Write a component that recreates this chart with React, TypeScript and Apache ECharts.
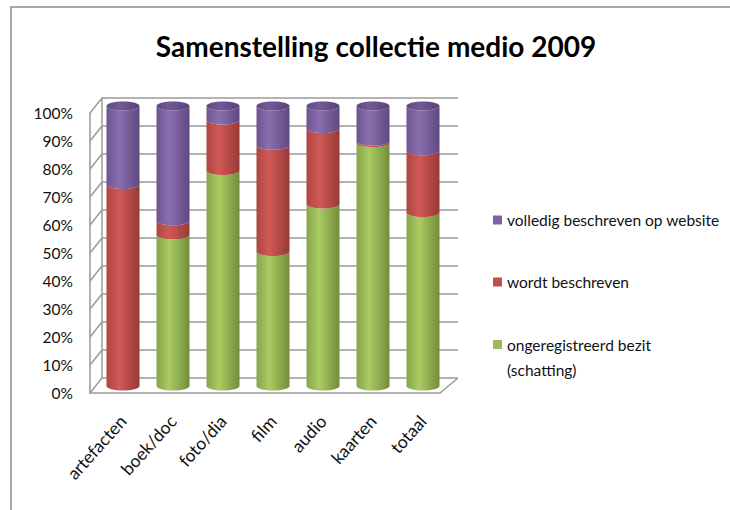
import React, { useEffect, useRef } from 'react';
import * as echarts from 'echarts';

const categories = ['artefacten', 'boek/doc', 'foto/dia', 'film', 'audio', 'kaarten', 'totaal'];
const ongeregistreerd = [0, 54, 77, 48, 65, 87, 62];
const wordtBeschreven = [72, 5, 18, 38, 27, 0.5, 22];
const volledig = [28, 41, 5, 14, 8, 12.5, 16];
const yTicks = [0, 10, 20, 30, 40, 50, 60, 70, 80, 90, 100];
const seriesNames = ['volledig beschreven op website', 'wordt beschreven', 'ongeregistreerd bezit (schatting)'];
const titleText = 'Samenstelling collectie medio 2009';

const FONT = 'Lato';
const WALL = '#9a9a9a';

function grad(c0: string, c1: string, c2: string) {
  return new echarts.graphic.LinearGradient(0, 0, 1, 0, [
    { offset: 0, color: c0 },
    { offset: 0.38, color: c1 },
    { offset: 1, color: c2 },
  ]);
}

function makeCylinder(shade: [string, string, string], cap: [string, string, string]) {
  return (params: any, api: any) => {
    const i = api.value(0);
    const s = api.value(1);
    const e = api.value(2);
    if (e - s <= 0) return null;
    const pTop = api.coord([i, e]);
    const pBot = api.coord([i, s]);
    const w = api.size([1, 0])[0] * 0.66;
    const rx = w / 2;
    const ry = 4.5;
    const cx = pTop[0];
    const L = cx - rx;
    const R = cx + rx;
    const k = 0.5523;
    const fwd = (y: number) =>
      `C ${L} ${y + k * ry} ${cx - k * rx} ${y + ry} ${cx} ${y + ry} C ${cx + k * rx} ${y + ry} ${R} ${y + k * ry} ${R} ${y}`;
    const back = (y: number) =>
      `C ${R} ${y + k * ry} ${cx + k * rx} ${y + ry} ${cx} ${y + ry} C ${cx - k * rx} ${y + ry} ${L} ${y + k * ry} ${L} ${y}`;
    const d = `M ${L} ${pTop[1]} ${fwd(pTop[1])} L ${R} ${pBot[1]} ${back(pBot[1])} Z`;
    const children: any[] = [
      { type: 'path', shape: { pathData: d }, style: { fill: grad(shade[0], shade[1], shade[2]) } },
    ];
    if (e >= 99.99) {
      children.push({
        type: 'ellipse',
        shape: { cx, cy: pTop[1], rx, ry },
        style: { fill: grad(cap[0], cap[1], cap[2]) },
      });
    }
    return { type: 'group', children };
  };
}

export default function App() {
  const ref = useRef<HTMLDivElement>(null);
  useEffect(() => {
    document.body.style.margin = '0';
    if (!ref.current) return;
    const chart = echarts.init(ref.current, undefined, { renderer: 'svg' });

    const greenData = categories.map((_, i) => [i, 0, ongeregistreerd[i]]);
    const redData = categories.map((_, i) => [i, ongeregistreerd[i], ongeregistreerd[i] + wordtBeschreven[i]]);
    const purpleData = categories.map((_, i) => [
      i,
      ongeregistreerd[i] + wordtBeschreven[i],
      ongeregistreerd[i] + wordtBeschreven[i] + volledig[i],
    ]);
    const wallData = yTicks.map((v) => [0, v]).concat([[1, 0]]);

    const legendText = { fontFamily: FONT, fontSize: 15.5, color: '#111', lineHeight: 18 };

    chart.setOption({
      animation: false,
      backgroundColor: '#fff',
      title: {
        text: titleText,
        left: 371,
        textAlign: 'center',
        top: 27,
        textStyle: { fontFamily: FONT, fontWeight: 'bold', fontSize: 28, color: '#000' },
      },
      graphic: [
        {
          type: 'rect',
          shape: { x: 11, y: 7, width: 760, height: 560 },
          style: { fill: 'none', stroke: '#8c8c8c', lineWidth: 1.5 },
          silent: true,
        },
      ],
      legend: [
        {
          data: [seriesNames[0]],
          left: 493,
          top: 211,
          padding: 0,
          itemWidth: 9,
          itemHeight: 9,
          icon: 'rect',
          selectedMode: false,
          textStyle: legendText,
        },
        {
          data: [seriesNames[1]],
          left: 493,
          top: 273,
          padding: 0,
          itemWidth: 9,
          itemHeight: 9,
          icon: 'rect',
          selectedMode: false,
          textStyle: legendText,
        },
        {
          data: [seriesNames[2]],
          left: 493,
          top: 307,
          padding: 0,
          itemWidth: 9,
          itemHeight: 9,
          icon: 'rect',
          selectedMode: false,
          formatter: () => ' \nongeregistreerd bezit\n(schatting)',
          textStyle: { ...legendText, lineHeight: 25 },
        },
      ],
      grid: [
        { left: 98, top: 106, width: 350, height: 280 },
        { left: 102, top: 98, width: 356, height: 280 },
        { left: 90, top: 113, width: 350, height: 280 },
      ],
      xAxis: [
        {
          type: 'category',
          gridIndex: 0,
          data: categories,
          axisLine: { show: false },
          axisTick: { show: false },
          axisLabel: { rotate: 48, margin: 32, fontFamily: FONT, fontSize: 17.5, color: '#111', interval: 0 },
        },
        {
          type: 'value',
          gridIndex: 1,
          min: 0,
          max: 1,
          axisLine: { show: false },
          axisTick: { show: false },
          axisLabel: { show: false },
          splitLine: { show: false },
        },
        {
          type: 'value',
          gridIndex: 2,
          min: 0,
          max: 1,
          axisLine: { show: true, lineStyle: { color: WALL, width: 1.5 } },
          axisTick: { show: false },
          axisLabel: { show: false },
          splitLine: { show: false },
        },
      ],
      yAxis: [
        {
          type: 'value',
          gridIndex: 0,
          min: 0,
          max: 100,
          show: false,
        },
        {
          type: 'value',
          gridIndex: 1,
          min: 0,
          max: 100,
          interval: 10,
          axisLine: { show: true, lineStyle: { color: WALL, width: 1.5 } },
          axisTick: { show: false },
          axisLabel: { show: false },
          splitLine: { show: true, lineStyle: { color: WALL, width: 1.5 } },
        },
        {
          type: 'value',
          gridIndex: 2,
          min: 0,
          max: 100,
          interval: 10,
          axisLine: { show: true, lineStyle: { color: WALL, width: 1.5 } },
          axisTick: { show: false },
          splitLine: { show: false },
          axisLabel: {
            formatter: '{value}%',
            margin: 17,
            fontFamily: FONT,
            fontSize: 15.5,
            color: '#111',
            padding: [6, 0, 0, 0],
          },
        },
      ],
      series: [
        {
          type: 'custom',
          name: 'walls',
          xAxisIndex: 2,
          yAxisIndex: 2,
          silent: true,
          z: 1,
          data: wallData,
          renderItem: (params: any, api: any) => {
            const p = api.coord([api.value(0), api.value(1)]);
            const dx = api.value(0) === 0 ? 12 : 18;
            return {
              type: 'line',
              shape: { x1: p[0], y1: p[1], x2: p[0] + dx, y2: p[1] - 15 },
              style: { stroke: WALL, lineWidth: 1.5 },
            };
          },
        },
        {
          type: 'custom',
          name: seriesNames[2],
          xAxisIndex: 0,
          yAxisIndex: 0,
          z: 3,
          itemStyle: { color: '#9bbb59' },
          data: greenData,
          renderItem: makeCylinder(['#86a54a', '#a9cc63', '#728d3c'], ['#8fae50', '#a3c45e', '#7f9c45']),
        },
        {
          type: 'custom',
          name: seriesNames[1],
          xAxisIndex: 0,
          yAxisIndex: 0,
          z: 3,
          itemStyle: { color: '#c0504d' },
          data: redData,
          renderItem: makeCylinder(['#ad4541', '#d05957', '#983a37'], ['#b5484a', '#c85552', '#a3413e']),
        },
        {
          type: 'custom',
          name: seriesNames[0],
          xAxisIndex: 0,
          yAxisIndex: 0,
          z: 3,
          itemStyle: { color: '#8064a2' },
          data: purpleData,
          renderItem: makeCylinder(['#6d5490', '#8a6fae', '#5f4880'], ['#5f4a80', '#72589a', '#5a4478']),
        },
      ],
    });
    return () => chart.dispose();
  }, []);
  return <div ref={ref} style={{ width: 730, height: 510 }} />;
}
